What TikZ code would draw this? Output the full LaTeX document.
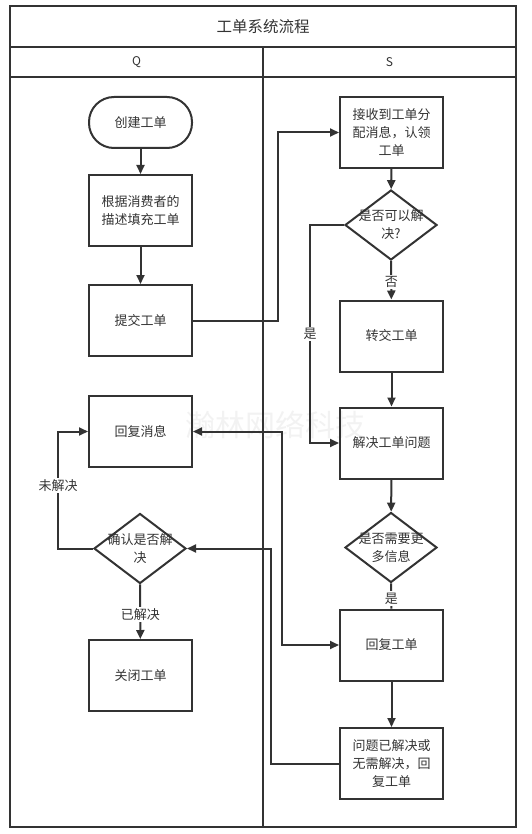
\documentclass[tikz,border=0pt]{standalone}
\usepackage{fontspec}
\setmainfont{Noto Sans CJK SC}
\usetikzlibrary{arrows.meta,shapes.geometric,calc}
\definecolor{ink}{HTML}{333333}
\tikzset{
  every node/.style={text=ink},
  frame/.style={draw=ink,line width=1.8pt},
  proc/.style={draw=ink,line width=2pt,rectangle,minimum width=103pt,minimum height=71pt,inner sep=0pt,align=center,font=\fontsize{13}{18}\selectfont},
  term/.style={proc,minimum height=51pt,rounded corners=25pt},
  dia/.style={draw=ink,line width=2pt,diamond,minimum width=92pt,minimum height=70pt,inner sep=0pt},
  diatext/.style={align=center,font=\fontsize{13}{18}\selectfont},
  conn/.style={draw=ink,line width=2pt},
  arr/.style={conn,-{Triangle[length=9pt,width=8pt]}},
  arrboth/.style={conn,{Triangle[length=9pt,width=8pt]}-{Triangle[length=9pt,width=8pt]}},
  lbl/.style={fill=white,inner sep=1.5pt,font=\fontsize{13}{16}\selectfont},
}
\begin{document}
\begin{tikzpicture}[x=1pt,y=-1pt]
\useasboundingbox (0,0) rectangle (531,834);
% watermark
\node[text=gray!10,font=\fontsize{30}{30}\selectfont] (wm) at (275,425) {瀚林网络科技};
% frame and lanes
\draw[frame] (10,6) rectangle (516,827);
\draw[frame] (10,47) -- (516,47);
\draw[frame] (10,77) -- (516,77);
\draw[frame] (263,47) -- (263,827);
\node[font=\fontsize{15.5}{18}\selectfont] (title) at (263,26.5) {工单系统流程};
\node[font=\fontsize{12}{14}\selectfont] (laneQ) at (136.5,62) {Q};
\node[font=\fontsize{12}{14}\selectfont] (laneS) at (389.5,62) {S};
% left lane
\node[term] (create) at (140.5,122.5) {创建工单};
\node[proc] (fill) at (140.5,210.5) {根据消费者的\\描述填充工单};
\node[proc] (submit) at (140.5,320.5) {提交工单};
\node[proc] (msg) at (140.5,431.5) {回复消息};
\node[dia] (d3) at (140,548.5) {};
\node[diatext] (d3t) at (d3) {确认是否解\\决};
\node[proc] (close) at (140.5,675.5) {关闭工单};
% right lane
\node[proc] (recv) at (391.5,132.5) {接收到工单分\\配消息，认领\\工单};
\node[dia] (d1) at (391,225) {};
\node[diatext] (d1t) at (d1) {是否可以解\\决?};
\node[proc] (transfer) at (391.5,336) {转交工单};
\node[proc] (solve) at (391.5,443) {解决工单问题};
\node[dia] (d2) at (391,547.5) {};
\node[diatext] (d2t) at (d2) {是否需要更\\多信息};
\node[proc] (reply) at (391.5,645) {回复工单};
\node[proc] (done) at (391.5,763.5) {问题已解决或\\无需解决，回\\复工单};
% connectors
\draw[arr] (create) -- (fill);
\draw[arr] (fill) -- (submit);
\draw[arr] (submit.east) -- ++(85,0) |- (recv.west);
\draw[arr] (recv) -- (d1);
\draw[arr] (d1) -- node[lbl,pos=0.55]{否} (transfer);
\draw[arr] (d1.west) -- ++(-34,0) |- node[lbl,pos=0.25]{是} (solve.west);
\draw[arr] (transfer) -- (solve);
\draw[arr] (solve) -- (d2);
\draw[conn] (d2) -- node[lbl,pos=0.6]{是} (reply);
\draw[arr] (reply) -- (done);
\draw[arrboth] (msg.east) -- ++(89,0) |- (reply.west);
\draw[arr] (done.west) -- ++(-68,0) |- (d3.east);
\draw[arr] (d3.west) -- ++(-35,0) |- node[lbl,pos=0.27]{未解决} (msg.west);
\draw[arr] (d3) -- node[lbl,pos=0.55]{已解决} (close);
\end{tikzpicture}
\end{document}
